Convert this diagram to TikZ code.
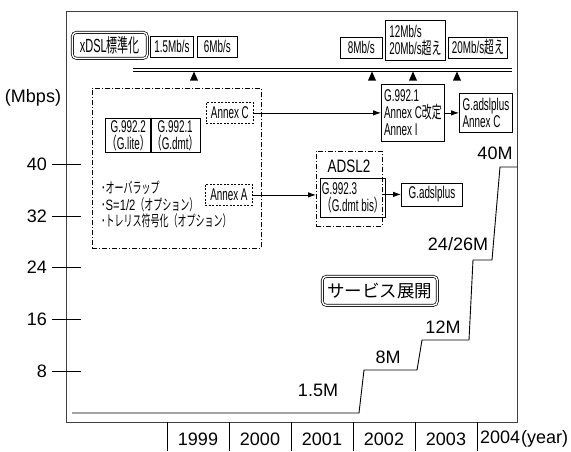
\documentclass[tikz,border=0pt]{standalone}
\usepackage{fontspec}
\setmainfont{Liberation Sans}
\newfontfamily\cond[FakeStretch=0.58]{Liberation Sans}
\newfontfamily\condb[FakeStretch=0.75]{Liberation Sans}
\newfontfamily\jpf{Noto Sans CJK JP}
\newfontfamily\jpcf[FakeStretch=0.58]{Noto Sans CJK JP}
\newfontfamily\jpbf[FakeStretch=0.6]{Noto Sans CJK JP}
\newcommand{\jp}[1]{{\jpf #1}}
\newcommand{\jc}[1]{{\jpcf #1}}
\newcommand{\jb}[1]{{\jpbf #1}}
\usetikzlibrary{arrows.meta}
\tikzset{
  frame/.style={draw=black!75, line width=0.9pt},
  bx/.style={draw, line width=0.8pt, inner sep=1.5pt, anchor=north west, font=\cond\fontsize{17}{17}\selectfont, align=left},
  rbx/.style={bx, align=center},
  dbx/.style={draw, double, double distance=1.4pt, line width=0.7pt, rounded corners=4pt, anchor=north west},
  dashbx/.style={bx, dashed, dash pattern=on 2pt off 1.5pt, align=center},
  ddbx/.style={draw, line width=0.7pt, dash pattern=on 5pt off 2pt on 1pt off 2pt, anchor=north west},
  lab/.style={font=\fontsize{18}{19}\selectfont},
  arr/.style={-{Latex[length=8pt,width=5.5pt]}, line width=0.8pt},
  tri/.style={fill=black},
}
\begin{document}
\begin{tikzpicture}[x=1pt,y=-1pt]
\useasboundingbox (0,0) rectangle (571,451);
% frame
\draw[frame] (66,11) rectangle (517,422);
% y ticks and labels
\foreach \v/\yy in {40/164,32/216,24/267,16/319,8/371}{
  \draw[line width=0.8pt] (52,\yy) -- (81,\yy);
  \node[lab, anchor=east, inner sep=0pt] (y\v) at (47,\yy) {\v};
}
\node[lab, anchor=center] (mbps) at (33,98) {(Mbps)};
% year axis
\foreach \xx in {167,229,291,353,415,477}{ \draw[line width=0.8pt] (\xx,422) -- (\xx,451); }
\foreach \yr/\xx in {1999/198,2000/260,2001/322,2002/384,2003/446}{
  \node[lab] (yr\yr) at (\xx,439) {\yr};
}
\node[lab, anchor=west, inner sep=0pt] (yr2004) at (480,439) {2004\kern1pt(year)};
% double line with markers
\draw[line width=0.8pt] (133,68) -- (512,68);
\draw[line width=0.8pt] (133,71.5) -- (512,71.5);
\foreach \xx in {194,372,413,457}{ \fill[tri] (\xx-4,80.5) -- (\xx+4,80.5) -- (\xx,71.5) -- cycle; }
% top boxes
\node[dbx, minimum width=75pt, minimum height=26pt, font=\cond\fontsize{19}{19}\selectfont] (xdsl) at (72,32) {xDSL\jc{標準化}};
\node[rbx, minimum width=43pt, minimum height=21pt] (r15) at (150,36) {1.5Mb/s};
\node[rbx, minimum width=40pt, minimum height=21pt] (r6) at (197,36) {6Mb/s};
\node[rbx, minimum width=42pt, minimum height=21pt] (r8) at (340,36.5) {8Mb/s};
\node[rbx, minimum width=60pt, minimum height=40pt, align=left] (r12) at (385,20) {12Mb/s\\20Mb/s\jc{超え}};
\node[rbx, minimum width=59pt, minimum height=21pt] (r20) at (448,36.5) {20Mb/s\jc{超え}};
% big dash-dot box
\node[ddbx, minimum width=169pt, minimum height=160pt] (big) at (92,88) {};
\node[bx, minimum width=42pt, minimum height=34pt, align=center] (g9922) at (105,118) {G.992.2\\\jc{（}G.lite\jc{）}};
\node[bx, minimum width=43pt, minimum height=34pt, align=center] (g9921) at (150,118) {G.992.1\\\jc{（}G.dmt\jc{）}};
\node[dashbx, minimum width=47pt, minimum height=21pt] (annc) at (206,102) {Annex C};
\node[dashbx, minimum width=47pt, minimum height=21pt] (anna) at (205,184) {Annex A};
\node[anchor=north west, align=left, inner sep=0pt, font=\condb\fontsize{15}{16.5}\selectfont] (bul) at (101,181) {\jb{･オーバラップ}\\\jb{･}S=1/2\jb{（オプション）}\\\jb{･トレリス符号化（オプション）}};
% right side boxes
\node[bx, minimum width=63pt, minimum height=57pt, align=left] (g9921c) at (381,84) {G.992.1\\Annex C\jc{改定}\\Annex I};
\node[bx, minimum width=53pt, minimum height=39pt, align=left] (gapc) at (459,93) {G.adslplus\\Annex C};
\node[ddbx, minimum width=66pt, minimum height=75pt] (adsl2) at (316,151) {};
\node[font=\condb\fontsize{18}{18}\selectfont] (adsl2t) at (349,166) {ADSL2};
\node[bx, minimum width=58pt, minimum height=39pt, align=left] (g9923) at (320,178) {G.992.3\\\jc{（}G.dmt bis\jc{）}};
\node[bx, minimum width=61pt, minimum height=23pt, align=center] (gap) at (401,182.5) {G.adslplus};
% arrows
\draw[arr] (annc.east) -- (annc.east -| g9921c.west);
\draw[arr] (anna.east) -- (anna.east -| adsl2.west);
\draw[arr] (adsl2.east |- gap.west) -- (gap.west);
\draw[arr] (g9921c.east |- gapc.west) -- (gapc.west);
% service box
\node[dbx, minimum width=115pt, minimum height=29pt, font=\jpf\fontsize{17.5}{18}\selectfont] (svc) at (322,276) {サービス展開};
% staircase
\draw[line width=0.9pt] (72,413) -- (359,413) -- (364,370) -- (417,370) -- (422,340) -- (469,340) -- (473,260) -- (492,260) -- (500,167) -- (517,167);
\node[lab] (l15) at (318,390) {1.5M};
\node[lab] (l8) at (388,357) {8M};
\node[lab] (l12) at (443,327) {12M};
\node[lab] (l24) at (458,244) {24/26M};
\node[lab] (l40) at (495,153) {40M};
\end{tikzpicture}
\end{document}
